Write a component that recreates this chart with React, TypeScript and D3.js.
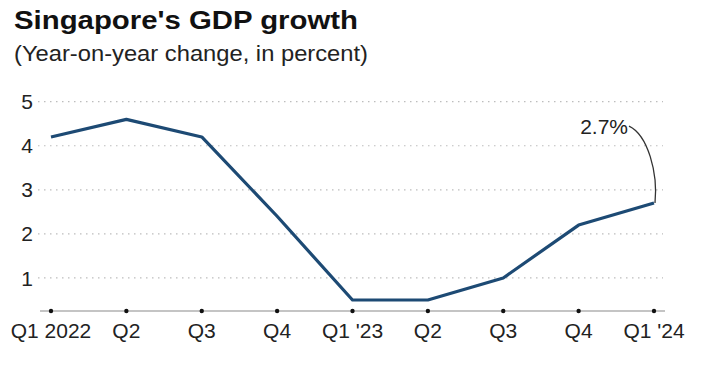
import React from "react";
import * as d3 from "d3";

// Quarterly labels and year-on-year GDP growth (%)
const quarters = ["Q1 2022", "Q2", "Q3", "Q4", "Q1 '23", "Q2 ", "Q3 ", "Q4 ", "Q1 '24"];
const growth = [4.2, 4.6, 4.2, 2.4, 0.5, 0.5, 1.0, 2.2, 2.7];
const yTicks = [1, 2, 3, 4, 5];

const W = 716;
const H = 366;
const FONT = "'Liberation Sans', Arial, Helvetica, sans-serif";

export default function App() {
  const x = d3.scalePoint<string>().domain(quarters).range([51, 654]);
  const y = d3.scaleLinear().domain([0.25, 5]).range([311, 101.7]);

  const line = d3
    .line<number>()
    .x((_, i) => x(quarters[i]) as number)
    .y((d) => y(d));

  const lastIdx = growth.length - 1;
  const lx = x(quarters[lastIdx]) as number;
  const ly = y(growth[lastIdx]);
  // Curved leader from the callout text down to the latest value
  const leader = d3.path();
  leader.moveTo(lx - 25, ly - 77);
  leader.bezierCurveTo(lx - 6, ly - 68, lx + 4, ly - 30, lx + 1, ly);

  const xMin = 38;
  const xMax = 665;

  return (
    <svg
      width={W}
      height={H}
      style={{ position: "absolute", left: 0, top: 0, background: "#fff" }}
      fontFamily={FONT}
    >
      <rect width={W} height={H} fill="#fff" />
      <text x={14} y={28.5} fontSize={25} fontWeight="bold" fill="#111" textLength={344} lengthAdjust="spacingAndGlyphs">
        Singapore's GDP growth
      </text>
      <text x={14} y={60.7} fontSize={21.5} fill="#222" textLength={354} lengthAdjust="spacingAndGlyphs">
        (Year-on-year change, in percent)
      </text>

      {yTicks.map((t) => (
        <g key={t}>
          <line
            x1={xMin}
            x2={xMax - 2}
            y1={y(t)}
            y2={y(t)}
            stroke="#bdbdbd"
            strokeWidth={1.2}
            strokeDasharray="1.5,4.5"
          />
          <text x={33} y={y(t)} dy="0.36em" textAnchor="end" fontSize={21} fill="#222">
            {t}
          </text>
        </g>
      ))}

      <line x1={xMin + 2} x2={xMax} y1={y.range()[0]} y2={y.range()[0]} stroke="#8a8a8a" strokeWidth={1.2} />
      {quarters.map((q) => (
        <g key={q}>
          <circle cx={x(q)} cy={y.range()[0]} r={2.2} fill="#111" />
          <text x={x(q)} y={338} textAnchor="middle" fontSize={21} fill="#222">
            {q.trim()}
          </text>
        </g>
      ))}

      <path d={line(growth) ?? ""} fill="none" stroke="#1d4a74" strokeWidth={3.2} strokeLinejoin="round" />

      <path d={leader.toString()} fill="none" stroke="#333" strokeWidth={1.3} />
      <text x={lx - 26} y={ly - 69} textAnchor="end" fontSize={21} fill="#222">
        {`${growth[lastIdx]}%`}
      </text>
    </svg>
  );
}
